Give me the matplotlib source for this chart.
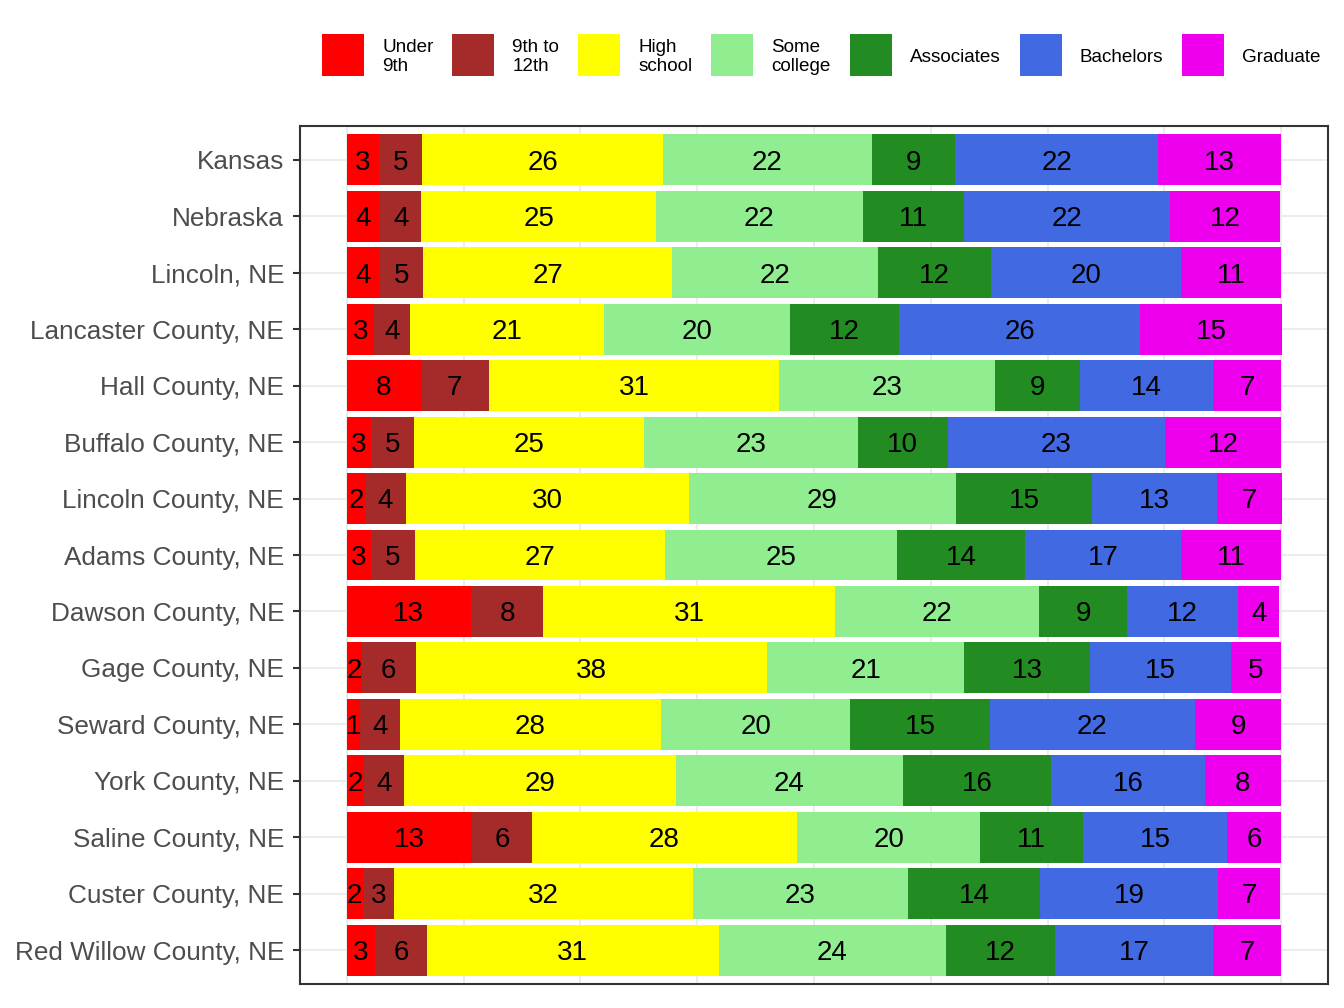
import numpy as np
import matplotlib.pyplot as plt
from matplotlib.patches import Rectangle

plt.rcParams['font.family'] = ['Liberation Sans', 'DejaVu Sans']

# Data (percent of population 25+ by education level)

places = ["Kansas", "Nebraska", "Lincoln, NE", "Lancaster County, NE",
          "Hall County, NE", "Buffalo County, NE", "Lincoln County, NE",
          "Adams County, NE", "Dawson County, NE", "Gage County, NE",
          "Seward County, NE", "York County, NE", "Saline County, NE",
          "Custer County, NE", "Red Willow County, NE"]

levels = ["Under\n9th", "9th to\n12th", "High\nschool", "Some\ncollege",
          "Associates", "Bachelors", "Graduate"]

under_9th   = [3.4, 3.6, 3.6, 2.9, 7.9, 2.6, 2.0, 2.6, 13.3, 1.6, 1.4, 1.9, 13.4, 1.7, 3.0]
ninth_12th  = [4.7, 4.4, 4.6, 3.9, 7.3, 4.6, 4.3, 4.7, 7.7, 5.8, 4.3, 4.2, 6.4, 3.4, 5.6]
high_school = [25.7, 25.1, 26.6, 20.7, 31.1, 24.6, 30.3, 26.8, 31.3, 37.6, 27.9, 29.1, 28.4, 31.9, 31.2]
some_coll   = [22.4, 22.1, 22.1, 19.9, 23.1, 22.9, 28.6, 24.8, 21.8, 21.1, 20.3, 24.3, 19.6, 23.1, 24.3]
associates  = [8.9, 10.9, 12.0, 11.7, 9.1, 9.6, 14.6, 13.7, 9.4, 13.4, 14.9, 15.9, 11.0, 14.1, 11.7]
bachelors   = [21.7, 22.0, 20.4, 25.8, 14.2, 23.3, 13.3, 16.7, 11.9, 15.1, 22.0, 16.4, 15.4, 19.0, 16.9]
graduate    = [13.2, 11.8, 10.7, 15.2, 7.3, 12.4, 7.0, 10.7, 4.4, 5.4, 9.2, 8.2, 5.8, 6.7, 7.3]

colors = ["#FF0000", "#A52A2A", "#FFFF00", "#90EE90", "#228B22", "#4169E1", "#EE00EE"]

series = [under_9th, ninth_12th, high_school, some_coll, associates, bachelors, graduate]

# Plot

W, H = 1344, 1008
fig = plt.figure(figsize=(W / 100, H / 100), dpi=100)
ax = fig.add_axes([300 / W, 1 - 984 / H, 1028 / W, 858 / H])

y = np.arange(len(places))
left = np.zeros(len(places))

for vals, col in zip(series, colors):
    vals = np.array(vals)
    ax.barh(y, vals, left=left, height=0.9, color=col, zorder=2)
    for yi, l, v in zip(y, left, vals):
        ax.annotate(f"{v:.0f}", (l + v / 2, yi), xytext=(0, -2),
                    textcoords='offset points', ha='center', va='center',
                    fontsize=20, color='black', zorder=3)
    left = left + vals

ax.set_xlim(-5, 105)
ax.set_ylim(len(places) - 0.4, -0.6)

ax.set_yticks(y)
ax.set_yticklabels(places, fontsize=18.8, color='#4D4D4D')
ax.set_xticks([])

for gx in np.arange(0, 101, 12.5):
    ax.axvline(gx, color='#EBEBEB', linewidth=1.3, zorder=0)
for gy in y:
    ax.axhline(gy, color='#EBEBEB', linewidth=1.3, zorder=0)

ax.tick_params(axis='y', length=5, width=1.5, color='#333333', pad=6.5)
for sp in ax.spines.values():
    sp.set_color('#333333')
    sp.set_linewidth(1.5)

# Legend (ggplot style: square keys with labels to the right)

renderer = fig.canvas.get_renderer()
key = 42
x0 = 322
ytop = 34
for col, lab in zip(colors, levels):
    fig.add_artist(Rectangle((x0 / W, 1 - (ytop + key) / H), key / W, key / H,
                             transform=fig.transFigure, facecolor=col,
                             edgecolor='none'))
    t = fig.text((x0 + key + 18) / W, 1 - (ytop + key / 2 + 2) / H, lab,
                 ha='left', va='center', fontsize=13.6, color='black',
                 linespacing=1.2)
    tw = t.get_window_extent(renderer).width
    x0 = x0 + key + 18 + tw + 19

plt.savefig("out.png", dpi=100)
